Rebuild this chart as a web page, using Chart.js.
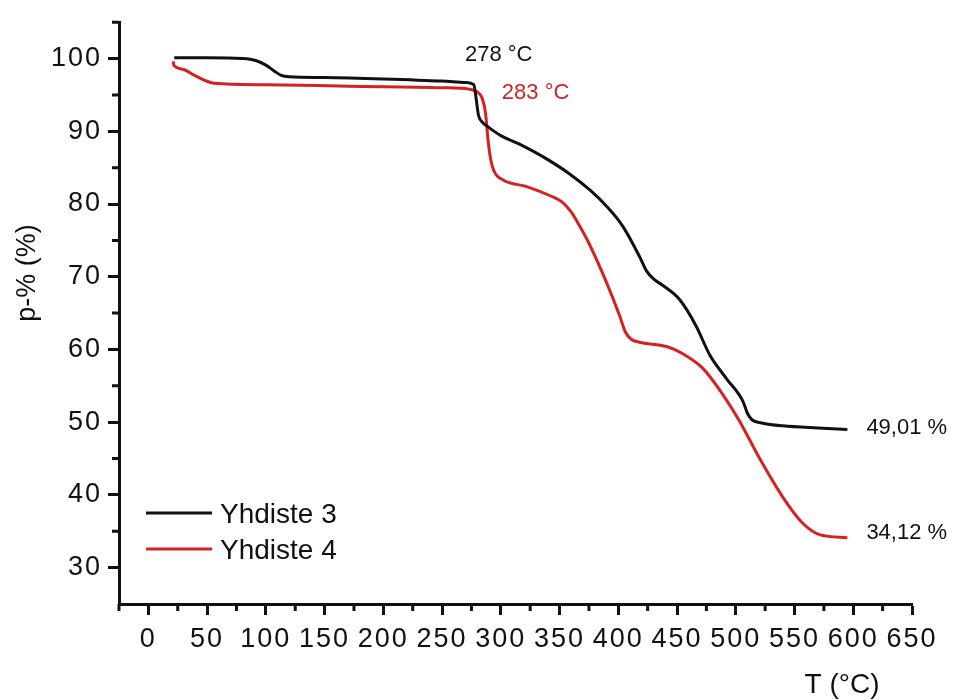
<!DOCTYPE html>
<html>
<head>
<meta charset="utf-8">
<title>Yhdiste 3 ja 4 TGA</title>
<script src="https://cdn.jsdelivr.net/npm/chart.js@4/dist/chart.umd.min.js"></script>
<style>
  html, body { margin: 0; padding: 0; background: #fff; }
  #wrap { width: 954px; height: 700px; }
</style>
</head>
<body>
<div id="wrap"><canvas id="tga" width="954" height="700"></canvas></div>
<script>
// Temperature (°C) and mass (%) for both compounds
const yhdiste3T = [22, 50, 80, 92, 100, 107, 113, 120, 150, 200, 250, 270, 277, 279, 281, 284, 290, 300, 315, 327, 340, 358, 376, 390, 404, 418, 424, 430, 438, 452, 466, 478, 492, 506, 510, 514, 522, 540, 570, 595];
const yhdiste3Mass = [100.1, 100.1, 100.0, 99.7, 99.1, 98.3, 97.7, 97.5, 97.4, 97.2, 96.9, 96.7, 96.4, 94.5, 92.2, 91.3, 90.5, 89.4, 88.3, 87.3, 86.1, 84.2, 81.9, 79.7, 76.9, 72.8, 70.8, 69.7, 68.8, 66.9, 63.3, 59.2, 56.0, 52.9, 51.2, 50.3, 49.9, 49.5, 49.2, 49.01];

const yhdiste4T = [21, 22, 30, 38, 48, 56, 100, 171, 250, 273, 280, 284, 287, 289, 291, 294, 302, 322, 344, 352, 360, 367, 375, 390, 401, 406, 411, 418, 441, 455, 472, 489, 503, 520, 540, 557, 572, 595];
const yhdiste4Mass = [99.6, 99.0, 98.5, 97.8, 97.0, 96.6, 96.4, 96.2, 96.0, 95.8, 95.4, 94.6, 92.5, 89.0, 86.5, 84.6, 83.3, 82.4, 81.0, 80.3, 78.9, 77.0, 74.6, 69.2, 64.7, 62.4, 61.4, 61.0, 60.4, 59.4, 57.4, 53.8, 50.2, 45.1, 39.7, 36.1, 34.5, 34.12];

// onset temperatures marked above the curves
const onset3 = 278;
const onset4 = 283;

// axis ticks
const xTicks = [0, 50, 100, 150, 200, 250, 300, 350, 400, 450, 500, 550, 600, 650];
const xMinorTicks = [-25, 25, 75, 125, 175, 225, 275, 325, 375, 425, 475, 525, 575, 625];
const yTicks = [30, 40, 50, 60, 70, 80, 90, 100];
const yMinorTicks = [35, 45, 55, 65, 75, 85, 95, 105];

const BLACK = '#111111';
const RED = '#d42121';
const FONT = '"Liberation Sans", Arial, sans-serif';

const toPoints = (xs, ys) => xs.map((x, i) => ({ x: x, y: ys[i] }));
const fmt = v => v.toFixed(2).replace('.', ',') + ' %';

// slightly wider digit spacing for the tick labels only
const tickSpacing = {
    id: 'tickSpacing',
    beforeDraw(chart) { chart.ctx.letterSpacing = '2px'; },
    beforeDatasetsDraw(chart) { chart.ctx.letterSpacing = '0px'; }
};

// short minor ticks on the outside of both axes
const minorTicks = {
    id: 'minorTicks',
    afterDraw(chart) {
        const { ctx, chartArea, scales: { x, y } } = chart;
        ctx.save();
        ctx.strokeStyle = BLACK;
        ctx.lineWidth = 3;
        ctx.beginPath();
        xMinorTicks.forEach(v => {
            const px = x.getPixelForValue(v);
            ctx.moveTo(px, chartArea.bottom);
            ctx.lineTo(px, chartArea.bottom + 7);
        });
        yMinorTicks.forEach(v => {
            const py = y.getPixelForValue(v);
            ctx.moveTo(chartArea.left, py);
            ctx.lineTo(chartArea.left - 7, py);
        });
        ctx.stroke();
        ctx.restore();
    }
};

// axis titles, legend box and value labels
const decorations = {
    id: 'decorations',
    afterDraw(chart) {
        const { ctx, scales: { x, y } } = chart;
        ctx.save();
        ctx.letterSpacing = '0px';

        ctx.fillStyle = BLACK;
        ctx.font = '28px ' + FONT;
        ctx.textAlign = 'center';
        ctx.textBaseline = 'alphabetic';
        ctx.fillText('T (°C)', 842, 693);

        ctx.save();
        ctx.translate(35, 273);
        ctx.rotate(-Math.PI / 2);
        ctx.font = '27px ' + FONT;
        ctx.fillText('p-% (%)', 0, 0);
        ctx.restore();

        // legend inside the plot, lower left
        ctx.textAlign = 'left';
        ctx.font = '28px ' + FONT;
        chart.data.datasets.forEach((ds, i) => {
            const ly = 513 + i * 36;
            ctx.strokeStyle = ds.borderColor;
            ctx.lineWidth = 3;
            ctx.beginPath();
            ctx.moveTo(146, ly);
            ctx.lineTo(212, ly);
            ctx.stroke();
            ctx.fillStyle = BLACK;
            ctx.fillText(ds.label, 220, ly + 10);
        });

        // onset temperatures
        ctx.font = '22px ' + FONT;
        ctx.fillStyle = BLACK;
        ctx.fillText(onset3 + ' °C', x.getPixelForValue(onset3) - 10, y.getPixelForValue(96.3) - 24);
        ctx.fillStyle = RED;
        ctx.fillText(onset4 + ' °C', x.getPixelForValue(onset4) + 21, y.getPixelForValue(95.0) + 4);

        // residual mass at the end of each run
        ctx.fillStyle = BLACK;
        const end3 = yhdiste3T.length - 1;
        const end4 = yhdiste4T.length - 1;
        ctx.fillText(fmt(yhdiste3Mass[end3]), x.getPixelForValue(yhdiste3T[end3]) + 19, y.getPixelForValue(yhdiste3Mass[end3]) + 5);
        ctx.fillText(fmt(yhdiste4Mass[end4]), x.getPixelForValue(yhdiste4T[end4]) + 19, y.getPixelForValue(yhdiste4Mass[end4]) + 1);

        ctx.restore();
    }
};

new Chart(document.getElementById('tga'), {
    type: 'line',
    data: {
        datasets: [
            {
                label: 'Yhdiste 3',
                data: toPoints(yhdiste3T, yhdiste3Mass),
                borderColor: BLACK,
                borderWidth: 3,
                pointRadius: 0,
                fill: false,
                cubicInterpolationMode: 'monotone'
            },
            {
                label: 'Yhdiste 4',
                data: toPoints(yhdiste4T, yhdiste4Mass),
                borderColor: RED,
                borderWidth: 3,
                pointRadius: 0,
                fill: false,
                cubicInterpolationMode: 'monotone'
            }
        ]
    },
    options: {
        responsive: false,
        animation: false,
        events: [],
        layout: { padding: { top: 17, right: 42, left: 0, bottom: 0 } },
        plugins: {
            legend: { display: false },
            tooltip: { enabled: false }
        },
        scales: {
            x: {
                type: 'linear',
                min: -25,
                max: 650,
                afterBuildTicks: scale => { scale.ticks = xTicks.map(v => ({ value: v })); },
                afterFit: scale => { scale.height = 96; },
                border: { display: true, color: BLACK, width: 3 },
                grid: { drawOnChartArea: false, drawTicks: true, tickLength: 11, tickWidth: 3, tickColor: BLACK },
                ticks: {
                    autoSkip: false,
                    maxRotation: 0,
                    padding: 8,
                    color: BLACK,
                    font: { family: FONT, size: 27 }
                }
            },
            y: {
                min: 25,
                max: 105,
                afterBuildTicks: scale => { scale.ticks = yTicks.map(v => ({ value: v })); },
                afterFit: scale => { scale.width = 119; },
                border: { display: true, color: BLACK, width: 3 },
                grid: { drawOnChartArea: false, drawTicks: true, tickLength: 11, tickWidth: 3, tickColor: BLACK },
                ticks: {
                    padding: 6,
                    color: BLACK,
                    font: { family: FONT, size: 27 }
                }
            }
        }
    },
    plugins: [tickSpacing, minorTicks, decorations]
});
</script>
</body>
</html>
